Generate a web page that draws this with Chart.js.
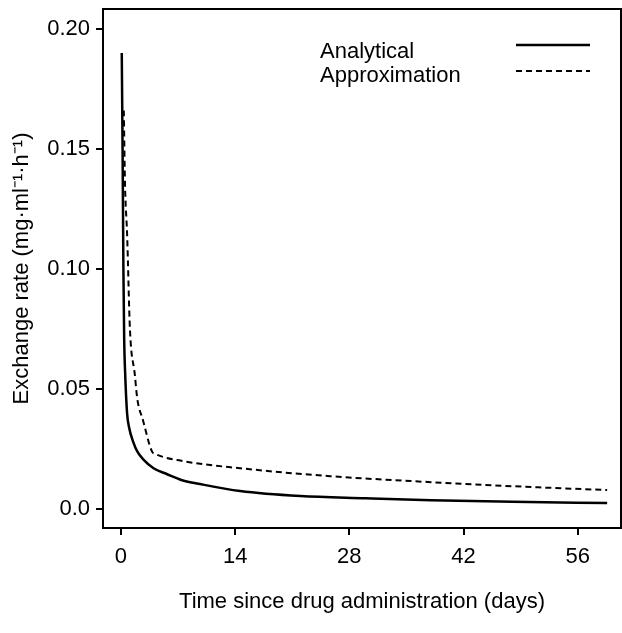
<!DOCTYPE html>
<html>
<head>
<meta charset="utf-8">
<script src="https://cdn.jsdelivr.net/npm/chart.js@4"></script>
<style>
  html, body { margin: 0; padding: 0; background: #fff; }
  #wrap { width: 622px; height: 633px; }
</style>
</head>
<body>
<div id="wrap"><canvas id="exchangeChart"></canvas></div>
<script>
// Exchange rate vs time since drug administration
const analyticalT    = [0.1, 0.2, 0.3, 0.4, 0.5, 0.75, 1.0, 1.5, 2.0, 2.7, 4.0, 5.6, 7.5, 9.7, 14.6, 22, 30, 38, 48, 59.6];
const analyticalRate = [0.19, 0.15, 0.10, 0.07, 0.058, 0.040, 0.034, 0.028, 0.024, 0.0208, 0.017, 0.0146, 0.012, 0.0104, 0.0075, 0.0054, 0.0045, 0.0037, 0.003, 0.0025];

const approxT    = [0.35, 0.5, 0.75, 1.1, 1.7, 2.0, 2.7, 3.8, 4.2, 7.6, 14.6, 25.6, 38, 48, 59.6];
const approxRate = [0.166, 0.135, 0.115, 0.075, 0.056, 0.046, 0.037, 0.024, 0.023, 0.020, 0.017, 0.0137, 0.0112, 0.0095, 0.0079];

const xTicks = [0, 14, 28, 42, 56];
const yTicks = [0, 0.05, 0.10, 0.15, 0.20];
const yTickLabels = ['0.0', '0.05', '0.10', '0.15', '0.20'];

const FONT = "'Liberation Sans', Arial, sans-serif";

const toPoints = (ts, vs) => ts.map((t, i) => ({ x: t, y: vs[i] }));

// frame around the plot + legend in the top right
const framePlugin = {
    id: 'frame',
    afterDraw(chart) {
        const { ctx, chartArea } = chart;
        ctx.save();
        ctx.strokeStyle = '#000';
        ctx.lineWidth = 2;
        ctx.strokeRect(chartArea.left, chartArea.top, chartArea.right - chartArea.left, chartArea.bottom - chartArea.top);

        ctx.font = '22px ' + FONT;
        ctx.fillStyle = '#000';
        ctx.textBaseline = 'alphabetic';
        const rows = [58, 82];
        chart.data.datasets.forEach((ds, i) => {
            ctx.fillText(ds.label, 320, rows[i]);
            ctx.beginPath();
            ctx.setLineDash(ds.borderDash || []);
            ctx.lineWidth = ds.borderWidth;
            ctx.moveTo(516, rows[i] - 13 + i * 2);
            ctx.lineTo(590, rows[i] - 13 + i * 2);
            ctx.stroke();
        });
        ctx.restore();
    }
};

const data = {
    datasets: [
        {
            label: 'Analytical',
            data: toPoints(analyticalT, analyticalRate),
            borderColor: '#000',
            borderWidth: 2.5,
            pointRadius: 0,
            cubicInterpolationMode: 'monotone',
        },
        {
            label: 'Approximation',
            data: toPoints(approxT, approxRate),
            borderColor: '#000',
            borderWidth: 2,
            borderDash: [6, 4],
            pointRadius: 0,
            cubicInterpolationMode: 'monotone',
        }
    ]
};

const config = {
    type: 'line',
    data: data,
    options: {
        responsive: true,
        maintainAspectRatio: false,
        animation: false,
        layout: { padding: { top: 9, right: 1, left: 0, bottom: 0 } },
        plugins: {
            legend: { display: false },
            tooltip: { enabled: false },
        },
        scales: {
            x: {
                type: 'linear',
                min: -2.2,
                max: 61.3,
                afterFit: s => { s.height = 105; s.paddingLeft = 0; s.paddingRight = 0; },
                afterBuildTicks: s => { s.ticks = xTicks.map(v => ({ value: v })); },
                grid: { drawOnChartArea: false, drawTicks: true, tickLength: 7, color: '#000', lineWidth: 2 },
                border: { display: true, color: '#000', width: 2 },
                ticks: {
                    color: '#000',
                    padding: 9,
                    font: { size: 22, family: FONT },
                    callback: v => String(v),
                },
                title: {
                    display: true,
                    text: 'Time since drug administration (days)',
                    color: '#000',
                    font: { size: 22, family: FONT },
                    padding: { top: 0, bottom: 18 },
                },
            },
            y: {
                min: -0.0079,
                max: 0.2083,
                afterFit: s => { s.width = 103; s.paddingTop = 0; s.paddingBottom = 0; },
                afterBuildTicks: s => { s.ticks = yTicks.map(v => ({ value: v })); },
                grid: { drawOnChartArea: false, drawTicks: true, tickLength: 7, color: '#000', lineWidth: 2 },
                border: { display: true, color: '#000', width: 2 },
                ticks: {
                    color: '#000',
                    padding: 6,
                    font: { size: 22, family: FONT },
                    callback: v => yTickLabels[yTicks.findIndex(t => Math.abs(t - v) < 1e-9)] ?? '',
                },
                title: {
                    display: true,
                    text: 'Exchange rate (mg·ml⁻¹·h⁻¹)',
                    color: '#000',
                    font: { size: 22, family: FONT },
                    padding: { top: 9, bottom: 0 },
                },
            }
        }
    },
    plugins: [framePlugin],
};

const myChart = new Chart(document.getElementById('exchangeChart'), config);
</script>
</body>
</html>
